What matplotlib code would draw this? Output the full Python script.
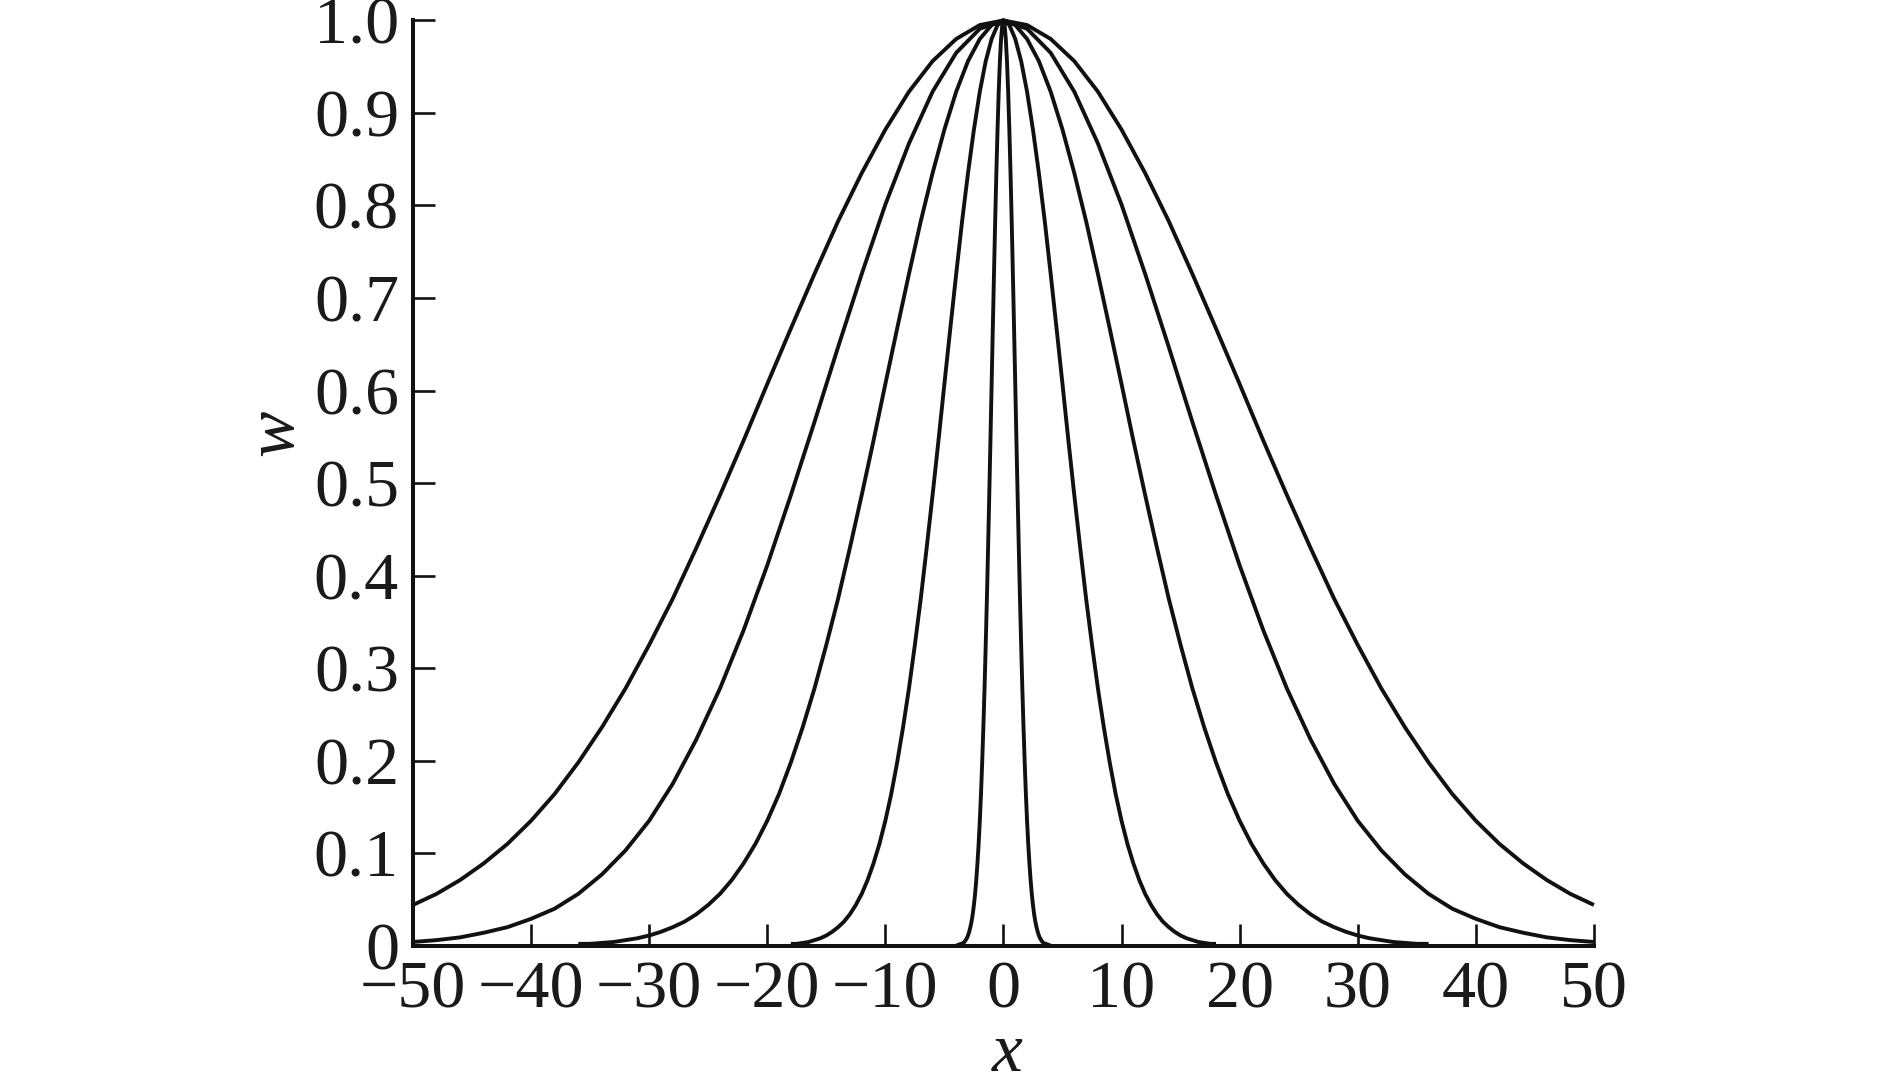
import numpy as np
import matplotlib.pyplot as plt

# ------------------------------------------------------------
# data (right half, x >= 0; curves are symmetric)
# ------------------------------------------------------------
X_WIDE = [0, 2, 4, 6, 8, 10, 12, 14, 16, 18, 20, 22, 24, 26, 28, 30,
          32, 34, 36, 38, 40, 42, 44, 46, 48, 50]
W_WIDE = [1.000, 0.995, 0.980, 0.956, 0.923, 0.882, 0.835, 0.783, 0.726,
          0.667, 0.607, 0.546, 0.487, 0.430, 0.375, 0.325, 0.278, 0.236,
          0.198, 0.164, 0.135, 0.110, 0.089, 0.071, 0.056, 0.044]

X_MID = [0, 2, 4, 6, 8, 10, 12, 14, 16, 18, 20, 22, 24, 26, 28, 30,
         32, 34, 36, 38, 40, 42, 44, 46, 48, 50]
W_MID = [1.000, 0.991, 0.965, 0.923, 0.867, 0.801, 0.726, 0.647, 0.566,
         0.487, 0.411, 0.341, 0.278, 0.223, 0.175, 0.135, 0.103, 0.077,
         0.056, 0.040, 0.029, 0.020, 0.014, 0.009, 0.006, 0.004]

X_NARROW = [0, 1, 2, 3, 4, 5, 6, 7, 8, 9, 10, 11, 12, 13, 14, 15, 16, 17,
            18, 19, 20, 21, 22, 23, 24, 25, 26, 27, 28, 29, 30, 31, 32, 33,
            34, 35, 36]
W_NARROW = [1.000, 0.995, 0.980, 0.956, 0.923, 0.882, 0.835, 0.783, 0.726,
            0.667, 0.607, 0.546, 0.487, 0.430, 0.375, 0.325, 0.278, 0.236,
            0.198, 0.164, 0.135, 0.110, 0.089, 0.071, 0.056, 0.044, 0.034,
            0.026, 0.020, 0.015, 0.011, 0.008, 0.006, 0.004, 0.003, 0.002,
            0.002]

X_THIN = [0, 0.5, 1, 1.5, 2, 2.5, 3, 3.5, 4, 4.5, 5, 5.5, 6, 6.5, 7, 7.5,
          8, 8.5, 9, 9.5, 10, 10.5, 11, 11.5, 12, 12.5, 13, 13.5, 14, 14.5,
          15, 15.5, 16, 16.5, 17, 17.5, 18]
W_THIN = [1.000, 0.995, 0.980, 0.956, 0.923, 0.882, 0.835, 0.783, 0.726,
          0.667, 0.607, 0.546, 0.487, 0.430, 0.375, 0.325, 0.278, 0.236,
          0.198, 0.164, 0.135, 0.110, 0.089, 0.071, 0.056, 0.044, 0.034,
          0.026, 0.020, 0.015, 0.011, 0.008, 0.006, 0.004, 0.003, 0.002,
          0.002]

X_SPIKE = [0, 0.1, 0.2, 0.3, 0.4, 0.5, 0.6, 0.7, 0.8, 0.9, 1.0, 1.1, 1.2,
           1.3, 1.4, 1.5, 1.6, 1.7, 1.8, 1.9, 2.0, 2.1, 2.2, 2.3, 2.4, 2.5,
           2.6, 2.7, 2.8, 2.9, 3.0, 3.1, 3.2, 3.3, 3.4, 3.5, 3.6, 3.8, 4.0]
W_SPIKE = [1.000, 0.995, 0.980, 0.956, 0.923, 0.882, 0.835, 0.783, 0.726,
           0.667, 0.607, 0.546, 0.487, 0.430, 0.375, 0.325, 0.278, 0.236,
           0.198, 0.164, 0.135, 0.110, 0.089, 0.071, 0.056, 0.044, 0.034,
           0.026, 0.020, 0.015, 0.011, 0.008, 0.006, 0.004, 0.003, 0.002,
           0.002, 0.001, 0.000]

X_TICKS = [-50, -40, -30, -20, -10, 0, 10, 20, 30, 40, 50]
X_TICKLABELS = ['\u221250', '\u221240', '\u221230', '\u221220', '\u221210',
                '0', '10', '20', '30', '40', '50']
Y_TICKS = [0, 0.1, 0.2, 0.3, 0.4, 0.5, 0.6, 0.7, 0.8, 0.9, 1.0]
Y_TICKLABELS = ['0', '0.1', '0.2', '0.3', '0.4', '0.5', '0.6', '0.7',
                '0.8', '0.9', '1.0']

CURVES = [(X_WIDE, W_WIDE), (X_MID, W_MID), (X_NARROW, W_NARROW),
          (X_THIN, W_THIN), (X_SPIKE, W_SPIKE)]


def mirror(xs, ws):
    xs = np.asarray(xs, dtype=float)
    ws = np.asarray(ws, dtype=float)
    return (np.concatenate([-xs[::-1], xs[1:]]),
            np.concatenate([ws[::-1], ws[1:]]))


plt.rcParams['font.family'] = ['Liberation Serif', 'DejaVu Serif']

fig = plt.figure(figsize=(18.89, 10.75), dpi=100)
ax = fig.add_axes([0.2186, 0.1203, 0.8438 - 0.2186, 0.981 - 0.1203])

for xs, ws in CURVES:
    x, w = mirror(xs, ws)
    ax.plot(x, w, color='#111111', linewidth=2.8, clip_on=False,
            solid_joinstyle='round', solid_capstyle='butt')

ax.set_xlim(-50, 50)
ax.set_ylim(0, 1.0)

ax.spines['top'].set_visible(False)
ax.spines['right'].set_visible(False)
for side in ('left', 'bottom'):
    ax.spines[side].set_linewidth(2.9)
    ax.spines[side].set_color('#111111')

ax.set_xticks(X_TICKS)
ax.set_xticklabels(X_TICKLABELS)
ax.set_yticks(Y_TICKS)
ax.set_yticklabels(Y_TICKLABELS)
ax.tick_params(direction='in', length=16, width=1.9, color='#111111',
               labelsize=49, labelcolor='#1a1a1a')
ax.tick_params(axis='x', pad=11)
ax.tick_params(axis='y', pad=10)

ax.text(-0.116, 0.554, 'w', transform=ax.transAxes, rotation=90,
        ha='center', va='center', fontsize=50, fontstyle='italic',
        color='#1a1a1a')
ax.text(0.503, -0.117, 'x', transform=ax.transAxes,
        ha='center', va='center', fontsize=50, fontstyle='italic',
        color='#1a1a1a')

fig.savefig('out.png', dpi=100, facecolor='white')
